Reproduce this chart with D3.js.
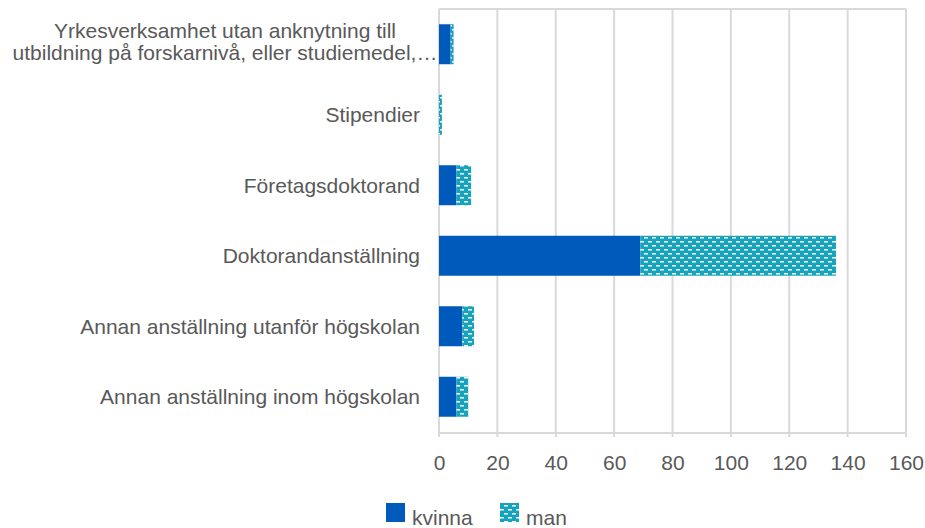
<!DOCTYPE html>
<html><head><meta charset="utf-8">
<script src="https://cdn.jsdelivr.net/npm/d3@7"></script>
<style>
html,body{margin:0;padding:0;background:#fff;}
svg{display:block;font-family:Arial,"Liberation Sans",sans-serif;}
</style></head>
<body><svg id="c" width="925" height="528"></svg>
<script>
const categories = [
  "Yrkesverksamhet utan anknytning till|utbildning på forskarnivå, eller studiemedel,…",
  "Stipendier",
  "Företagsdoktorand",
  "Doktorandanställning",
  "Annan anställning utanför högskolan",
  "Annan anställning inom högskolan"
];
const kvinna = [4, 0, 6, 69, 8, 6];
const man = [1, 1, 5, 67, 4, 4];
const xTicks = [0, 20, 40, 60, 80, 100, 120, 140, 160];
const seriesNames = ["kvinna", "man"];

const svg = d3.select("#c");
const textColor = "#595959";
const gridColor = "#d9d9d9";
const kvColor = "#005ABB";
const manColor = "#15a4bd";

const defs = svg.append("defs");
const pat = defs.append("pattern").attr("id", "dash").attr("patternUnits", "userSpaceOnUse")
  .attr("width", 8).attr("height", 8);
pat.append("rect").attr("width", 8).attr("height", 8).attr("fill", manColor);
pat.append("rect").attr("x", 0).attr("y", 1).attr("width", 4).attr("height", 1.5).attr("fill", "#fff");
pat.append("rect").attr("x", 4).attr("y", 5).attr("width", 4).attr("height", 1.5).attr("fill", "#fff");

const x = d3.scaleLinear().domain([0, 160]).range([439, 906]);
const y = d3.scaleBand().domain(categories).range([9, 432]).paddingInner(0.433).paddingOuter(0.2165);

// grid
svg.append("g").selectAll("line").data(xTicks).join("line")
  .attr("x1", d => x(d)).attr("x2", d => x(d)).attr("y1", 9).attr("y2", 437)
  .attr("stroke", gridColor).attr("stroke-width", 2);
svg.append("line").attr("x1", x(0)).attr("x2", x(160)).attr("y1", 9).attr("y2", 9)
  .attr("stroke", gridColor).attr("stroke-width", 2);

// axis
const ax = svg.append("g").attr("transform", "translate(0,432.5)")
  .call(d3.axisBottom(x).tickValues(xTicks).tickSize(0).tickPadding(23).tickFormat(d3.format("d")));
ax.select(".domain").attr("stroke", gridColor).attr("stroke-width", 2);
ax.selectAll("text").attr("fill", textColor).style("font-size", "21px").style("font-family", "Arial, 'Liberation Sans', sans-serif");

// bars
const bars = svg.append("g");
bars.selectAll("rect.k").data(categories).join("rect").attr("class", "k")
  .attr("x", x(0)).attr("y", d => y(d)).attr("height", y.bandwidth())
  .attr("width", (d, i) => x(kvinna[i]) - x(0)).attr("fill", kvColor);
bars.selectAll("rect.m").data(categories).join("rect").attr("class", "m")
  .attr("x", (d, i) => x(kvinna[i])).attr("y", d => y(d)).attr("height", y.bandwidth())
  .attr("width", (d, i) => x(kvinna[i] + man[i]) - x(kvinna[i])).attr("fill", "url(#dash)");

// category labels
const lab = svg.append("g").attr("fill", textColor).style("font-size", "21px");
categories.forEach(c => {
  const lines = c.split("|");
  const cy = y(c) + y.bandwidth() / 2;
  if (lines.length === 1) {
    lab.append("text").attr("x", 420).attr("y", cy).attr("dy", "0.35em")
      .attr("text-anchor", "end").text(lines[0]);
  } else {
    lines.forEach((l, j) => {
      lab.append("text").attr("x", 225).attr("y", cy - 14 + j * 22).attr("dy", "0.35em")
        .attr("text-anchor", "middle").text(l);
    });
  }
});

// legend
const lg = svg.append("g").style("font-size", "21px").attr("fill", textColor);
const lx = [386, 500];
seriesNames.forEach((s, i) => {
  lg.append("rect").attr("x", lx[i]).attr("y", 503).attr("width", 19).attr("height", 19)
    .attr("fill", i === 0 ? kvColor : "url(#dash)");
  lg.append("text").attr("x", lx[i] + 26).attr("y", 525).text(s);
});
</script></body></html>
